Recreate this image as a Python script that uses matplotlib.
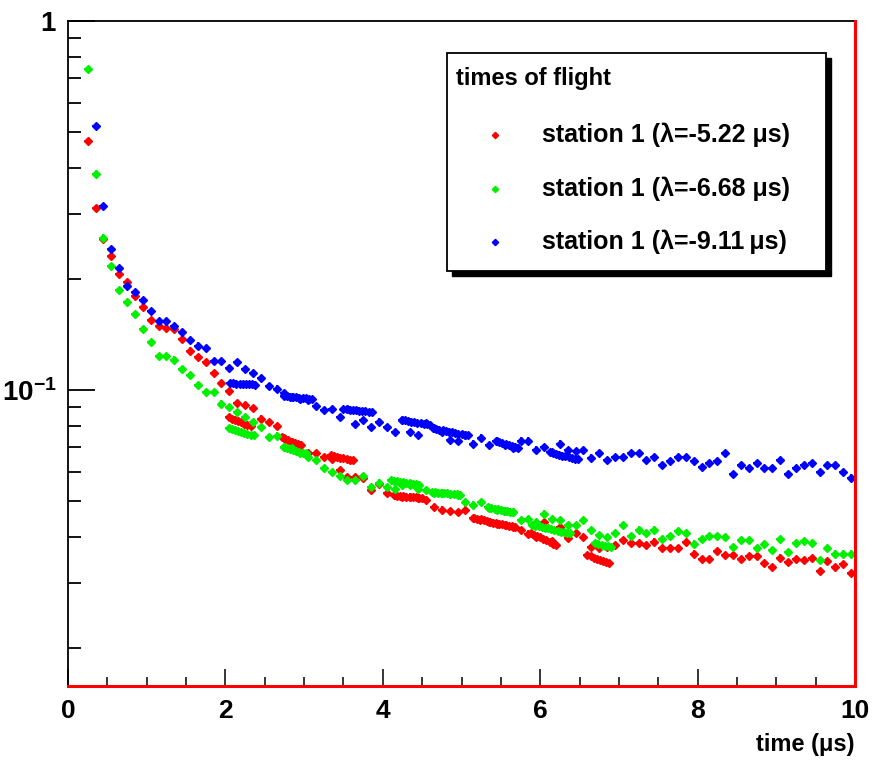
import numpy as np
import matplotlib
matplotlib.use("Agg")
import matplotlib.pyplot as plt
from matplotlib import font_manager
from matplotlib.patches import Rectangle
from matplotlib.ticker import FixedLocator, FixedFormatter, NullFormatter

# ---------------------------------------------------------------- data
# histogram bin centres (0.1 us bins)
t_bins = np.round(np.arange(0.25, 10.0, 0.1), 2)

red_vals = [0.472, 0.311, 0.257, 0.231, 0.207, 0.196, 0.180, 0.168, 0.155, 0.149,
            0.147, 0.146, 0.138, 0.128, 0.123, 0.119, 0.111, 0.1047, 0.0996, 0.0924,
            0.091, 0.0893, 0.0838, 0.082, 0.0799, 0.0741, 0.0725, 0.071, 0.0676, 0.0674,
            0.066, 0.065, 0.0607, 0.0582, 0.0582, 0.058, 0.0536, 0.0557, 0.0525, 0.0519,
            0.0515, 0.0515, 0.051, 0.0505, 0.0483, 0.0475, 0.047, 0.0468, 0.0475, 0.045,
            0.0447, 0.044, 0.0435, 0.043, 0.0425, 0.0418, 0.0409, 0.040, 0.044, 0.039,
            0.0427, 0.0397, 0.041, 0.040, 0.0376, 0.0374, 0.0375, 0.038, 0.0392, 0.0385,
            0.0385, 0.038, 0.0389, 0.0373, 0.0373, 0.0373, 0.0387, 0.0361, 0.0348, 0.0348,
            0.0367, 0.0357, 0.0357, 0.0348, 0.0355, 0.0355, 0.034, 0.0331, 0.0352, 0.0342,
            0.0348, 0.0346, 0.035, 0.0324, 0.0345, 0.0331, 0.0338, 0.032]

green_vals = [0.74, 0.386, 0.259, 0.217, 0.187, 0.173, 0.161, 0.146, 0.135, 0.124,
              0.124, 0.121, 0.114, 0.110, 0.103, 0.099, 0.099, 0.092, 0.0898, 0.0874,
              0.0847, 0.082, 0.0796, 0.0747, 0.0753, 0.0702, 0.0696, 0.0674, 0.066, 0.0646,
              0.0614, 0.0601, 0.0585, 0.057, 0.057, 0.0585, 0.0547, 0.0562, 0.0545, 0.0541,
              0.0555, 0.0552, 0.054, 0.0535, 0.0526, 0.0526, 0.0524, 0.052, 0.0498, 0.049,
              0.0498, 0.048, 0.0475, 0.047, 0.0467, 0.0444, 0.0447, 0.044, 0.0463, 0.0447,
              0.0444, 0.0431, 0.043, 0.0444, 0.0418, 0.0405, 0.040, 0.041, 0.0431, 0.0403,
              0.0419, 0.041, 0.0419, 0.0394, 0.0403, 0.0416, 0.041, 0.0384, 0.0394, 0.0403,
              0.0403, 0.040, 0.0376, 0.0392, 0.0392, 0.0374, 0.0383, 0.0369, 0.0396, 0.0365,
              0.0386, 0.039, 0.0386, 0.0346, 0.0374, 0.0361, 0.0361, 0.0361]

blue_vals = [np.nan, 0.520, 0.316, 0.241, 0.214, 0.192, 0.184, 0.175, 0.164, 0.154,
             0.154, 0.149, 0.144, 0.137, 0.132, 0.130, 0.120, 0.120, 0.115, 0.119,
             0.114, 0.111, 0.108, 0.1025, 0.101, 0.098, 0.0959, 0.0948, 0.094, 0.0905,
             0.0883, 0.089, 0.0844, 0.089, 0.0809, 0.083, 0.0793, 0.0822, 0.0795, 0.0771,
             0.083, 0.0771, 0.0755, 0.0815, 0.0789, 0.077, 0.0735, 0.073, 0.0755, 0.0717,
             0.0744, 0.071, 0.0727, 0.071, 0.0696, 0.073, 0.073, 0.069, 0.0701, 0.0679,
             0.0717, 0.0688, 0.0684, 0.0688, 0.0657, 0.0675, 0.0647, 0.066, 0.066, 0.0675,
             0.0675, 0.0646, 0.066, 0.0626, 0.0641, 0.066, 0.066, 0.0641, 0.062, 0.0633,
             0.0641, 0.0674, 0.0592, 0.0626, 0.0616, 0.0633, 0.0616, 0.0616, 0.0646, 0.0592,
             0.0616, 0.0626, 0.0633, 0.060, 0.0626, 0.0626, 0.060, 0.058]

# additional overlapping entries (finer-binned runs)
red_extra_t = [2.04, 2.08, 2.12, 2.16, 2.20, 2.24, 2.28, 2.32,
               2.72, 2.76, 2.80, 2.84, 2.88, 2.92, 2.96,
               3.34, 3.38, 3.42, 3.46, 3.50, 3.54, 3.58, 3.62,
               4.14, 4.18, 4.22, 4.26, 4.30, 4.34, 4.38, 4.42, 4.46, 4.50,
               5.16, 5.20, 5.24, 5.28, 5.32, 5.36, 5.40, 5.44, 5.48, 5.52, 5.56, 5.60, 5.64, 5.68,
               5.88, 5.92, 5.96, 6.00, 6.04, 6.08, 6.12, 6.16, 6.20,
               6.60, 6.64, 6.68, 6.72, 6.76, 6.80, 6.84, 6.88]
red_extra_v = [0.0846, 0.0838, 0.0832, 0.0825, 0.0818, 0.0812, 0.0806, 0.0800,
               0.0745, 0.0738, 0.0731, 0.0726, 0.0720, 0.0714, 0.0709,
               0.0667, 0.0664, 0.0660, 0.0657, 0.0654, 0.0651, 0.0648, 0.0646,
               0.0520, 0.0518, 0.0517, 0.0516, 0.0515, 0.0514, 0.0513, 0.0512, 0.0510, 0.0509,
               0.0450, 0.0447, 0.0446, 0.0444, 0.0442, 0.0440, 0.0438, 0.0437, 0.0435, 0.0433,
               0.0431, 0.0429, 0.0428, 0.0426,
               0.0410, 0.0406, 0.0402, 0.0399, 0.0396, 0.0392, 0.0388, 0.0384, 0.0381,
               0.0357, 0.0355, 0.0352, 0.0349, 0.0346, 0.0344, 0.0342, 0.0340]

green_extra_t = [2.04, 2.08, 2.12, 2.16, 2.20, 2.24, 2.28, 2.32, 2.36,
                 2.74, 2.78, 2.82, 2.86, 2.90, 2.94, 2.98, 3.02,
                 4.10, 4.14, 4.18, 4.22, 4.26, 4.30, 4.34, 4.38, 4.42, 4.46,
                 4.62, 4.66, 4.70, 4.74, 4.78, 4.82, 4.86, 4.90, 4.94, 4.98,
                 5.34, 5.38, 5.42, 5.46, 5.50, 5.54, 5.58, 5.62, 5.66,
                 5.90, 5.94, 5.98, 6.02, 6.06, 6.10, 6.14, 6.18, 6.22, 6.26, 6.30, 6.34, 6.38,
                 6.70, 6.74, 6.78, 6.82, 6.86, 6.90]
green_extra_v = [0.0789, 0.0784, 0.0779, 0.0774, 0.0769, 0.0765, 0.0760, 0.0757, 0.0755,
                 0.0702, 0.0698, 0.0693, 0.0688, 0.0684, 0.0679, 0.0676, 0.0674,
                 0.0570, 0.0568, 0.0566, 0.0565, 0.0563, 0.0561, 0.0559, 0.0558, 0.0556, 0.0555,
                 0.0530, 0.0529, 0.0528, 0.0527, 0.0526, 0.0525, 0.0524, 0.0523, 0.0522, 0.0521,
                 0.0482, 0.0480, 0.0478, 0.0476, 0.0474, 0.0472, 0.0470, 0.0469, 0.0467,
                 0.0430, 0.0429, 0.0428, 0.0426, 0.0424, 0.0422, 0.0420, 0.0418, 0.0416,
                 0.0414, 0.0412, 0.0411, 0.0410,
                 0.0385, 0.0383, 0.0381, 0.0379, 0.0378, 0.0376]

blue_extra_t = [2.06, 2.10, 2.14, 2.18, 2.22, 2.26, 2.30, 2.34, 2.38,
                2.74, 2.78, 2.82, 2.86, 2.90, 2.94, 2.98, 3.02, 3.06, 3.10,
                3.50, 3.54, 3.58, 3.62, 3.66, 3.70, 3.74, 3.78, 3.82, 3.86,
                4.24, 4.28, 4.32, 4.36, 4.40, 4.44, 4.48, 4.52, 4.56, 4.60,
                4.64, 4.68, 4.72, 4.76, 4.80, 4.84, 4.88, 4.92, 4.96, 5.00, 5.04, 5.08,
                5.44, 5.48, 5.52, 5.56, 5.60, 5.64, 5.68, 5.72,
                6.12, 6.16, 6.20, 6.24, 6.28, 6.32, 6.36, 6.40, 6.44, 6.48]
blue_extra_v = [0.1045, 0.1043, 0.1042, 0.1040, 0.1039, 0.1038, 0.1037, 0.1036, 0.1035,
                0.0965, 0.0963, 0.0961, 0.0959, 0.0957, 0.0955, 0.0952, 0.0950, 0.0948, 0.0946,
                0.0890, 0.0888, 0.0886, 0.0884, 0.0882, 0.0880, 0.0878, 0.0876, 0.0874, 0.0872,
                0.0830, 0.0828, 0.0825, 0.0822, 0.0819, 0.0816, 0.0813, 0.0810, 0.0808, 0.0805,
                0.0789, 0.0786, 0.0782, 0.0779, 0.0775, 0.0772, 0.0769, 0.0765, 0.0762, 0.0759,
                0.0757, 0.0755,
                0.0727, 0.0723, 0.0719, 0.0715, 0.0711, 0.0707, 0.0703, 0.0699,
                0.0679, 0.0676, 0.0672, 0.0669, 0.0665, 0.0662, 0.0658, 0.0655, 0.0652, 0.0650]

legend_title = "times of flight"
legend_labels = ["station 1 (\u03bb=-5.22 \u03bcs)",
                 "station 1 (\u03bb=-6.68 \u03bcs)",
                 "station 1 (\u03bb=-9.11\u2009\u03bcs)"]
x_ticks = [0, 2, 4, 6, 8, 10]
y_major = [0.1, 1.0]
y_major_labels = [r"$\mathbf{10^{-1}}$", r"$\mathbf{1}$"]
x_label = "time (\u03bcs)"

# ---------------------------------------------------------------- style
installed = {f.name for f in font_manager.fontManager.ttflist}
FONT = "Liberation Sans Narrow" if "Liberation Sans Narrow" in installed else "Liberation Sans"
plt.rcParams["font.family"] = [FONT, "DejaVu Sans"]
plt.rcParams["mathtext.fontset"] = "custom"
plt.rcParams["mathtext.bf"] = FONT + ":bold"
plt.rcParams["mathtext.rm"] = FONT
plt.rcParams["mathtext.default"] = "bf"

W, H = 875, 767
fig = plt.figure(figsize=(W / 100, H / 100), dpi=100)
fig.patch.set_facecolor("white")

x0, x1, ytop, ybot = 68, 855, 21, 686
ax = fig.add_axes([x0 / W, 1 - ybot / H, (x1 - x0) / W, (ybot - ytop) / H])
ax.set_yscale("log")
ax.set_xlim(0, 10)
ax.set_ylim(0.0158, 1.0)

colors = ["#ff0000", "#00f000", "#0000ff"]
mains = [red_vals, green_vals, blue_vals]
extras = [(red_extra_t, red_extra_v), (green_extra_t, green_extra_v),
          (blue_extra_t, blue_extra_v)]

for c, vals, (et, ev) in zip(colors, mains, extras):
    v = np.asarray(vals, dtype=float)
    ax.errorbar(t_bins, v, xerr=0.05, yerr=0.02 * v, fmt="D", ms=4.0,
                color=c, mec=c, elinewidth=1.3, capsize=0, zorder=3)
    ev = np.asarray(ev, dtype=float)
    ax.errorbar(et, ev, xerr=0.05, yerr=0.02 * ev, fmt="D", ms=4.0,
                color=c, mec=c, elinewidth=1.3, capsize=0, zorder=3)

# axes frame
for s in ["top", "left"]:
    ax.spines[s].set_color("black")
    ax.spines[s].set_linewidth(1.3)
for s in ["bottom", "right"]:
    ax.spines[s].set_color("#ff0000")
    ax.spines[s].set_linewidth(2.2)
    ax.spines[s].set_zorder(5)

# ticks
ax.xaxis.set_major_locator(FixedLocator(x_ticks))
ax.xaxis.set_minor_locator(FixedLocator(np.arange(0.5, 10, 0.5)))
ax.set_xticklabels([str(t) for t in x_ticks])
ax.yaxis.set_major_locator(FixedLocator(y_major))
ax.yaxis.set_major_formatter(FixedFormatter(y_major_labels))
ax.yaxis.set_minor_locator(FixedLocator([0.02, 0.03, 0.04, 0.05, 0.06, 0.07, 0.08, 0.09,
                                         0.2, 0.3, 0.4, 0.5, 0.6, 0.7, 0.8, 0.9]))
ax.yaxis.set_minor_formatter(NullFormatter())
ax.tick_params(axis="x", which="major", direction="in", length=12.5, width=1.1,
               labelsize=19, pad=9, top=False)
ax.tick_params(axis="x", which="minor", direction="in", length=6.5, width=1.1, top=False)
ax.tick_params(axis="y", which="major", direction="in", length=19.5, width=1.3,
               labelsize=20, pad=8, right=False)
ax.tick_params(axis="y", which="minor", direction="in", length=9.5, width=1.3, right=False)
for lab in ax.get_xticklabels() + ax.get_yticklabels():
    lab.set_fontweight("bold")

fig.text(x1 / W, 1 - 745 / H, x_label, ha="right", va="center",
         fontsize=17, fontweight="bold")

# legend box with drop shadow
def fx(px):
    return px / W

def fy(py):
    return 1 - py / H

lx0, lx1, ly0, ly1 = 447, 826, 53, 271
sh = 5
fig.patches.append(Rectangle((fx(lx0 + sh), fy(ly1 + sh)), fx(lx1 - lx0), (ly1 - ly0) / H,
                             transform=fig.transFigure, facecolor="black",
                             edgecolor="black", zorder=10))
fig.patches.append(Rectangle((fx(lx0), fy(ly1)), fx(lx1 - lx0), (ly1 - ly0) / H,
                             transform=fig.transFigure, facecolor="white",
                             edgecolor="black", linewidth=1.3, zorder=11))
fig.text(fx(456), fy(78), legend_title, ha="left", va="center", fontsize=17,
         fontweight="bold", zorder=12)
for i, (c, lab) in enumerate(zip(colors, legend_labels)):
    yy = [135, 189, 242][i]
    fig.lines.append(plt.Line2D([fx(495)], [fy(yy)], transform=fig.transFigure,
                                marker="D", ms=3.2, color=c, mec=c, zorder=12))
    fig.text(fx(542), fy(yy), lab, ha="left", va="center", fontsize=18,
             fontweight="bold", zorder=12)

fig.savefig("out.png", dpi=100, facecolor="white")
